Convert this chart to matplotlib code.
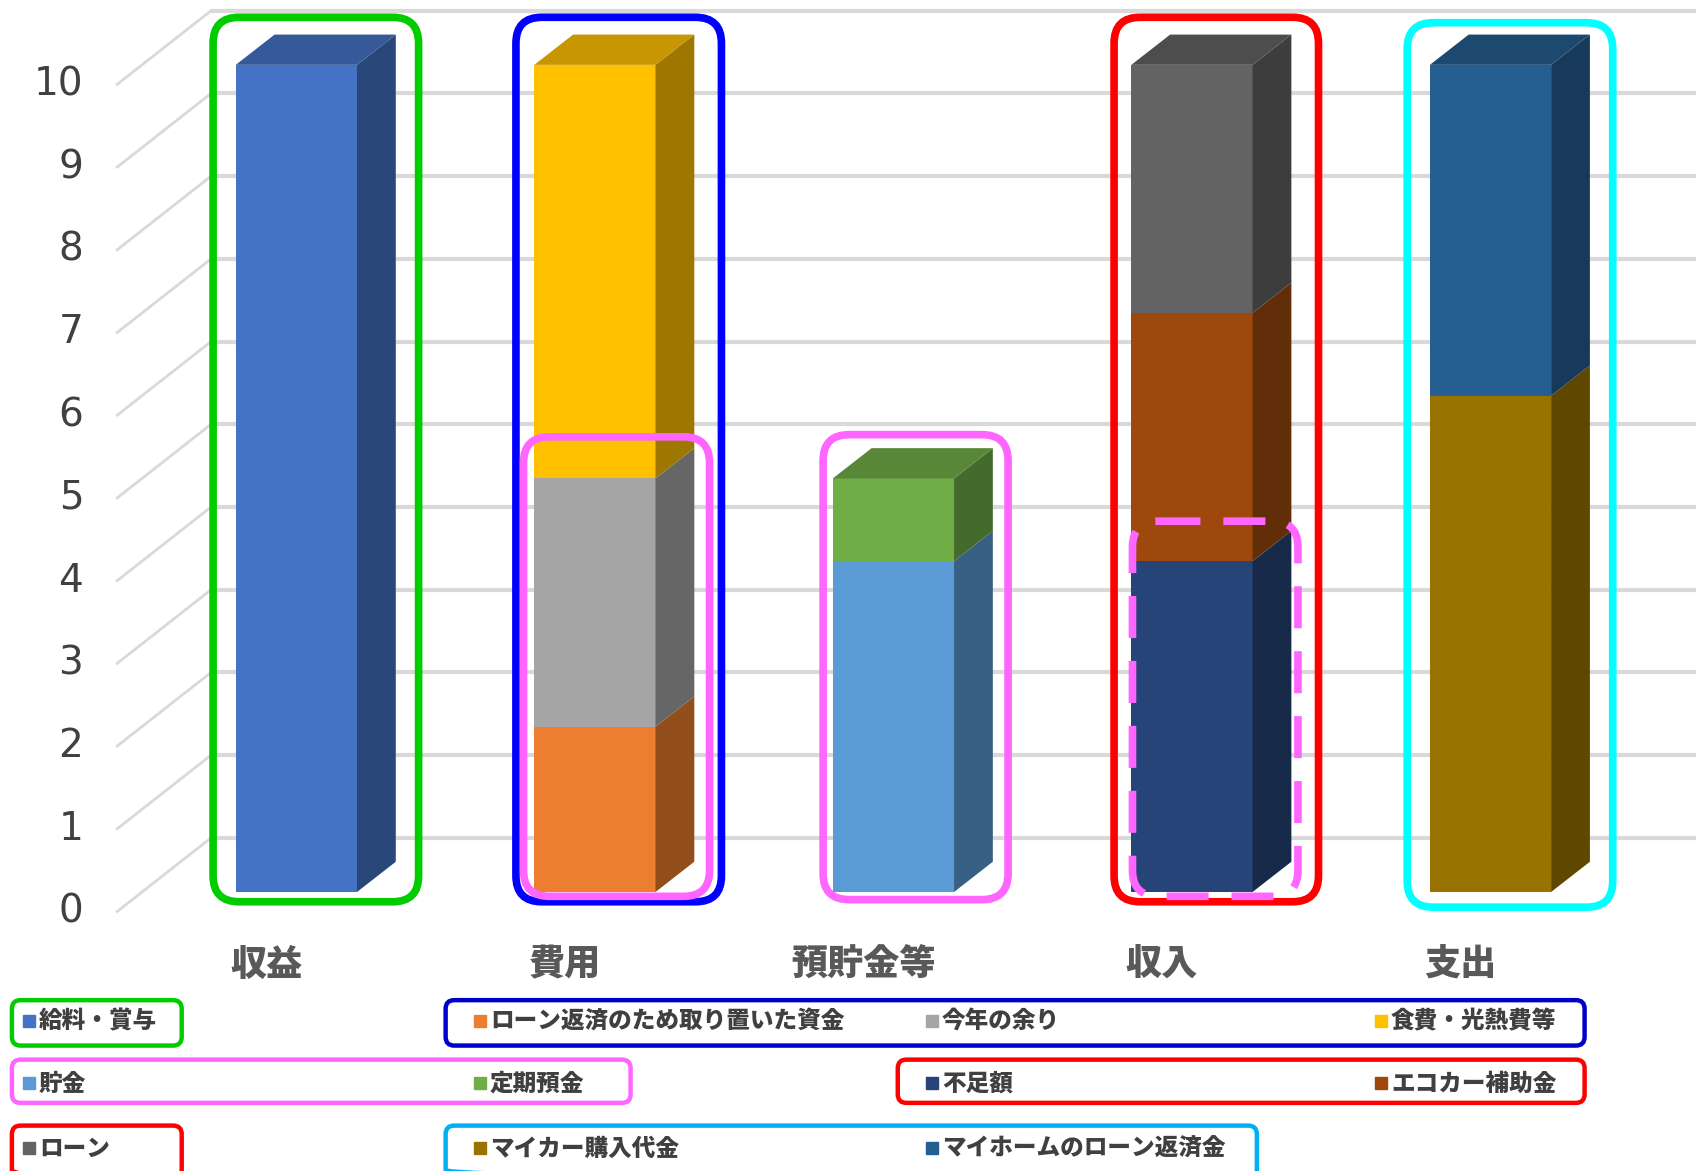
import matplotlib
matplotlib.use("Agg")
import matplotlib.pyplot as plt
from matplotlib.patches import Polygon, FancyBboxPatch
import matplotlib.colors as mcolors
import numpy as np

plt.rcParams['font.family'] = ['Noto Sans CJK JP', 'DejaVu Sans']

# categories and stacked series (bottom -> top in each column)
categories = ["収益", "費用", "預貯金等", "収入", "支出"]
series_names = ["給料・賞与", "ローン返済のため取り置いた資金", "今年の余り", "食費・光熱費等",
                "貯金", "定期預金", "不足額", "エコカー補助金", "ローン",
                "マイカー購入代金", "マイホームのローン返済金"]
series_colors = ["#4472C4", "#ED7D31", "#A5A5A5", "#FFC000",
                 "#5B9BD5", "#70AD47", "#264478", "#9E480E", "#636363",
                 "#997300", "#255E91"]
series_cat = [0, 1, 1, 1, 2, 2, 3, 3, 3, 4, 4]
series_vals = [10, 2, 3, 5, 4, 1, 4, 3, 3, 6, 4]
yticks = list(range(0, 11))

# pseudo-3d geometry (data units)
bar_w = 0.406
side_dx, side_dy = 0.130, 0.366
wall_x0, wall_dy = -0.286, 0.654
side_x0 = -0.60

fig = plt.figure(figsize=(16.96, 11.71), dpi=100)
ax = fig.add_axes([0, 0, 1, 1])
ax.set_xlim(-0.9928, 4.6884)
ax.set_ylim(-3.373, 10.784)
ax.axis("off")

grid_c = "#D9D9D9"
for v in yticks:
    # back wall gridline
    ax.plot([wall_x0, 4.8], [v + wall_dy, v + wall_dy], color=grid_c, lw=3, zorder=1,
            solid_capstyle="butt")
    # side wall gridline
    ax.plot([side_x0, wall_x0], [v - 0.235, v + wall_dy], color=grid_c, lw=2, zorder=1)
    ax.text(-0.714, v - 0.235, str(v), ha="right", va="center", fontsize=28,
            color="#404040", family="DejaVu Sans")


def shade(c, f):
    r, g, b = mcolors.to_rgb(c)
    return (r * f, g * f, b * f)


bottoms = np.zeros(len(categories))
tops = {}
for name, col, ci, v in zip(series_names, series_colors, series_cat, series_vals):
    b = bottoms[ci]
    ax.bar(ci, v, width=bar_w, bottom=b, color=col, edgecolor="none", zorder=3)
    xr = ci + bar_w / 2
    ax.add_patch(Polygon([(xr, b), (xr + side_dx, b + side_dy),
                          (xr + side_dx, b + v + side_dy), (xr, b + v)],
                         closed=True, fc=shade(col, 0.62), ec="none", zorder=3))
    bottoms[ci] = b + v
    tops[ci] = col

for ci, col in tops.items():
    t = bottoms[ci]
    xl, xr = ci - bar_w / 2, ci + bar_w / 2
    ax.add_patch(Polygon([(xl, t), (xl + side_dx, t + side_dy),
                          (xr + side_dx, t + side_dy), (xr, t)],
                         closed=True, fc=shade(col, 0.78), ec="none", zorder=3))

for i, c in enumerate(categories):
    ax.text(i - 0.101, -0.88, c, ha="center", va="center", fontsize=26,
            fontweight="black", color="#595959")

# overlay in pixel-like coordinates for the hand-drawn boxes and legend
ov = fig.add_axes([0, 0, 1, 1])
ov.set_xlim(0, 1568)
ov.set_ylim(1083, 0)
ov.axis("off")
ov.patch.set_alpha(0)


def rbox(x0, y0, x1, y1, color, lw=5.5, r=24, ls="solid"):
    ov.add_patch(FancyBboxPatch((x0, y0), x1 - x0, y1 - y0,
                                boxstyle=f"round,pad=0,rounding_size={r}",
                                fc="none", ec=color, lw=lw, ls=ls, zorder=5))


rbox(197, 16, 387, 834, "#00CC00")
rbox(477, 16, 667, 834, "#0000FF")
rbox(484, 404, 656, 829, "#FF66FF")
rbox(761, 402, 932, 832, "#FF66FF")
rbox(1030, 16, 1219, 834, "#FF0000")
rbox(1047, 482, 1200, 829, "#FF66FF", ls=(0, (5.5, 3)))
rbox(1301, 21, 1491, 839, "#00FFFF")

# legend group frames
lw_leg = 3.2
rbox(11, 925, 168, 967, "#00CC00", lw=lw_leg, r=8)
rbox(412, 925, 1465, 967, "#0000CC", lw=lw_leg, r=8)
rbox(11, 980, 583, 1020, "#FF66FF", lw=lw_leg, r=8)
rbox(830, 980, 1465, 1020, "#FF0000", lw=lw_leg, r=8)
rbox(11, 1041, 168, 1090, "#FF0000", lw=lw_leg, r=8)
rbox(412, 1041, 1162, 1090, "#00B0F0", lw=lw_leg, r=8)

leg_x = [20, 437, 855, 1270, 20, 437, 855, 1270, 20, 437, 855]
leg_y = [944, 944, 944, 944, 1002, 1002, 1002, 1002, 1062, 1062, 1062]
for s, (lx, ly) in enumerate(zip(leg_x, leg_y)):
    ov.plot(lx + 7, ly, marker="s", ms=8, color=series_colors[s], zorder=6)
    ov.text(lx + 16, ly, series_names[s], ha="left", va="center", fontsize=17,
            fontweight="black", color="#404040", zorder=6)

fig.savefig("out.png", dpi=100)
